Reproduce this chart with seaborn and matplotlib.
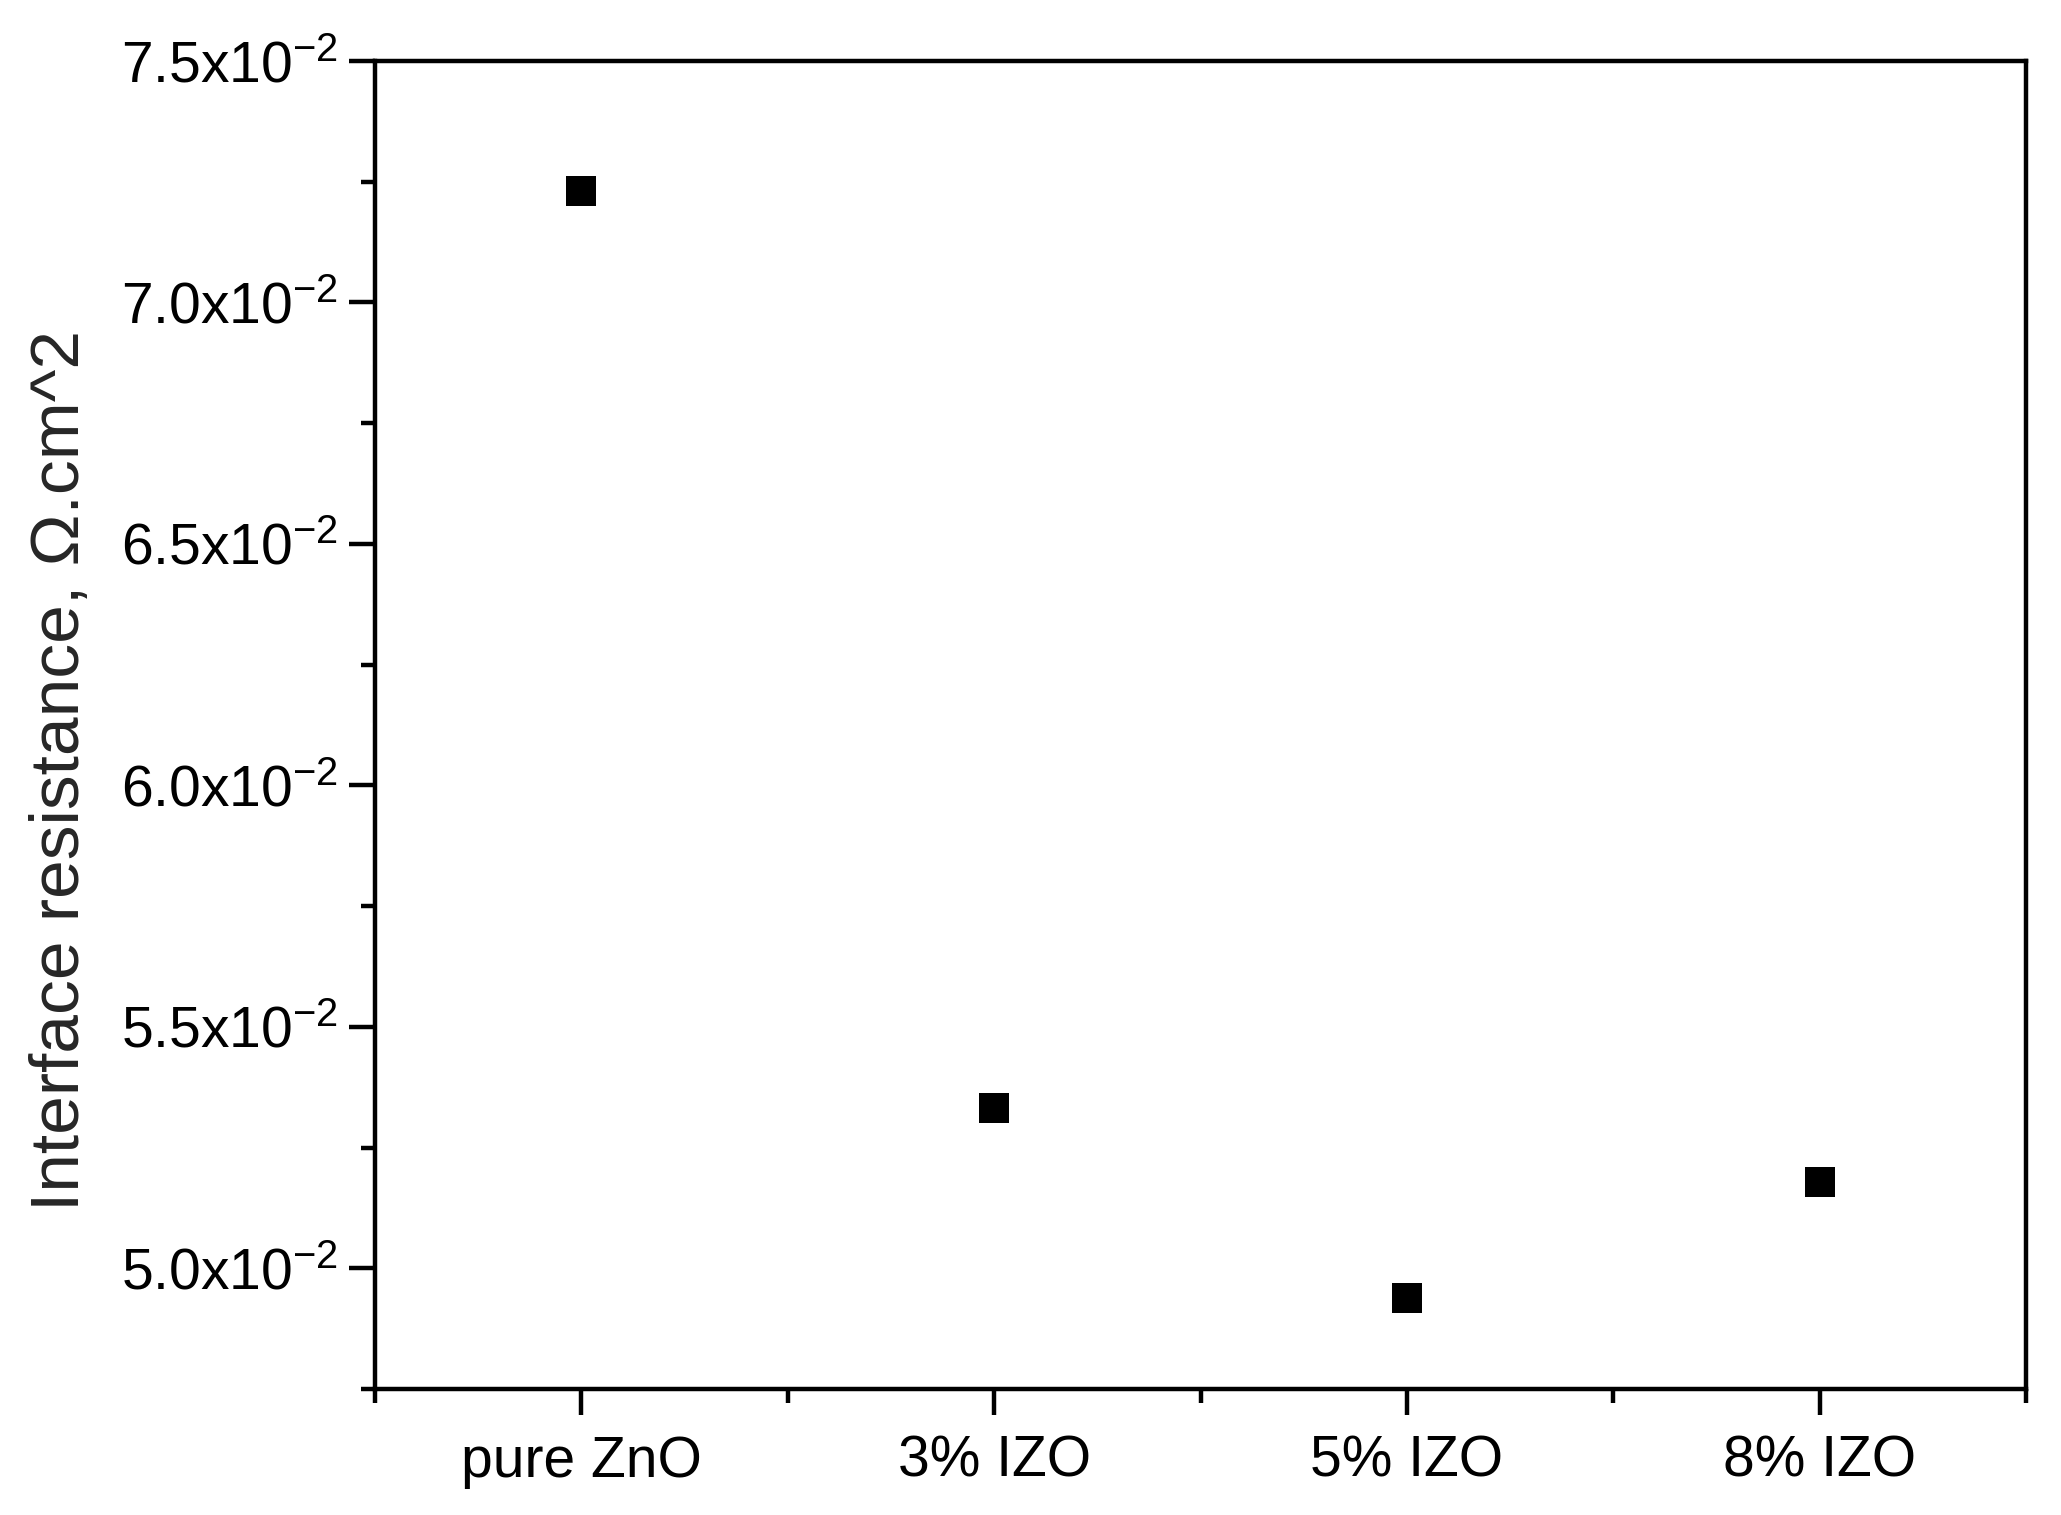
import matplotlib
matplotlib.use("Agg")
import matplotlib.pyplot as plt
import seaborn as sns
import pandas as pd
from matplotlib.ticker import MultipleLocator, FixedLocator, FuncFormatter

# data
samples = ["pure ZnO", "3% IZO", "5% IZO", "8% IZO"]
resistance = [0.07231, 0.05331, 0.04938, 0.05179]

df = pd.DataFrame({"sample": samples, "resistance": resistance})

sns.set_style("ticks")
plt.rcParams["font.family"] = ["Liberation Sans", "DejaVu Sans"]
plt.rcParams["mathtext.fontset"] = "custom"
plt.rcParams["mathtext.rm"] = "Liberation Sans"
plt.rcParams["mathtext.it"] = "Liberation Sans:italic"

fig = plt.figure(figsize=(20.61, 15.15), dpi=100)
ax = fig.add_axes([0.182, 0.0832, 0.801, 0.8765])

sns.scatterplot(data=df, x="sample", y="resistance", marker="s", color="black",
                s=470, linewidth=0, ax=ax, zorder=3)

ax.set_xlim(-0.5, 3.5)
ax.set_ylim(0.0475, 0.075)

ax.yaxis.set_major_locator(MultipleLocator(0.005))
ax.yaxis.set_minor_locator(MultipleLocator(0.0025))
ax.yaxis.set_major_formatter(FuncFormatter(lambda v, p: f"{v*100:.1f}x10$^{{-2}}$"))
ax.xaxis.set_minor_locator(FixedLocator([-0.5, 0.5, 1.5, 2.5, 3.5]))

ax.tick_params(which="both", direction="out", width=3.2, colors="black",
               labelsize=41, top=False, right=False)
ax.tick_params(which="major", length=19, pad=8)
ax.tick_params(axis="x", which="major", pad=14)
ax.tick_params(which="minor", length=10)

for sp in ax.spines.values():
    sp.set_visible(True)
    sp.set_linewidth(3.2)
    sp.set_color("black")

ax.set_xlabel("")
ax.set_ylabel("Interface resistance, Ω.cm^2", fontsize=50)
ax.yaxis.set_label_coords(-0.171, 0.466)

fig.savefig("out.png", dpi=100)
